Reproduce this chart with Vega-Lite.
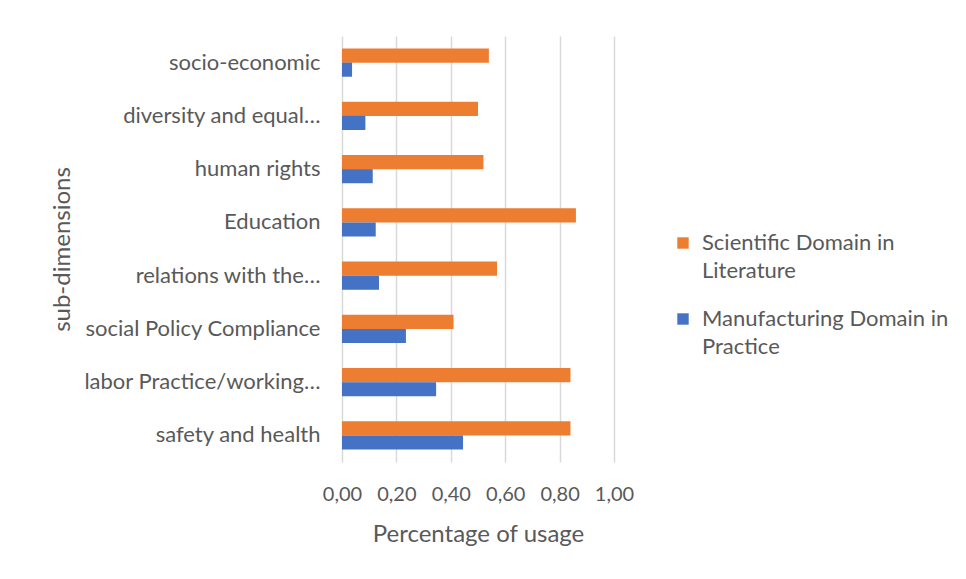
{
  "$schema": "https://vega.github.io/schema/vega-lite/v6.json",
  "width": 272,
  "height": 426,
  "autosize": {"type": "none"},
  "padding": {"left": 342, "top": 36, "right": 352, "bottom": 117},
  "background": "white",
  "config": {
    "font": "Lato",
    "view": {"stroke": null},
    "axis": {"labelColor": "#595959", "titleColor": "#595959", "labelFont": "Lato", "titleFont": "Lato", "titleFontWeight": "normal"},
    "legend": {"labelColor": "#595959", "labelFont": "Lato"},
    "style": {"guide-label": {"lineHeight": 28}}
  },
  "data": {
    "values": [
      {"category": "socio-economic", "series": "Scientific Domain in Literature", "value": 0.54},
      {"category": "socio-economic", "series": "Manufacturing Domain in Practice", "value": 0.037},
      {"category": "diversity and equal…", "series": "Scientific Domain in Literature", "value": 0.50},
      {"category": "diversity and equal…", "series": "Manufacturing Domain in Practice", "value": 0.086},
      {"category": "human rights", "series": "Scientific Domain in Literature", "value": 0.52},
      {"category": "human rights", "series": "Manufacturing Domain in Practice", "value": 0.113},
      {"category": "Education", "series": "Scientific Domain in Literature", "value": 0.86},
      {"category": "Education", "series": "Manufacturing Domain in Practice", "value": 0.124},
      {"category": "relations with the…", "series": "Scientific Domain in Literature", "value": 0.57},
      {"category": "relations with the…", "series": "Manufacturing Domain in Practice", "value": 0.136},
      {"category": "social Policy Compliance", "series": "Scientific Domain in Literature", "value": 0.41},
      {"category": "social Policy Compliance", "series": "Manufacturing Domain in Practice", "value": 0.235},
      {"category": "labor Practice/working…", "series": "Scientific Domain in Literature", "value": 0.84},
      {"category": "labor Practice/working…", "series": "Manufacturing Domain in Practice", "value": 0.346},
      {"category": "safety and health", "series": "Scientific Domain in Literature", "value": 0.84},
      {"category": "safety and health", "series": "Manufacturing Domain in Practice", "value": 0.445}
    ]
  },
  "mark": {"type": "bar"},
  "encoding": {
    "y": {
      "field": "category",
      "type": "nominal",
      "sort": null,
      "scale": {"paddingInner": 0.47, "paddingOuter": 0.235},
      "axis": {
        "title": "sub-dimensions",
        "titleFontSize": 24,
        "titleX": -268,
        "titleY": 213,
        "labelFontSize": 22,
        "labelPadding": 22,
        "labelLimit": 400,
        "ticks": false,
        "domain": false
      }
    },
    "yOffset": {
      "field": "series",
      "type": "nominal",
      "sort": ["Scientific Domain in Literature", "Manufacturing Domain in Practice"]
    },
    "x": {
      "field": "value",
      "type": "quantitative",
      "scale": {"domain": [0, 1]},
      "axis": {
        "title": "Percentage of usage",
        "titleFontSize": 24,
        "titlePadding": 18,
        "labelFontSize": 20,
        "labelPadding": 22,
        "labelFlush": false,
        "labelOverlap": false,
        "values": [0, 0.2, 0.4, 0.6, 0.8, 1.0],
        "labelExpr": "replace(format(datum.value, '.2f'), '.', ',')",
        "ticks": false,
        "domain": false,
        "grid": true,
        "gridColor": "#d9d9d9",
        "gridWidth": 1.5
      }
    },
    "color": {
      "field": "series",
      "type": "nominal",
      "sort": ["Scientific Domain in Literature", "Manufacturing Domain in Practice"],
      "scale": {"domain": ["Scientific Domain in Literature", "Manufacturing Domain in Practice"], "range": ["#ED7D31", "#4472C4"]},
      "legend": {
        "title": null,
        "orient": "none",
        "legendX": 330,
        "legendY": 196,
        "symbolType": "square",
        "symbolSize": 130,
        "symbolStrokeWidth": 0,
        "labelFontSize": 22,
        "labelLimit": 400,
        "labelOffset": 8,
        "rowPadding": 26,
        "labelExpr": "datum.label == 'Scientific Domain in Literature' ? ['Scientific Domain in', 'Literature'] : ['Manufacturing Domain in', 'Practice']"
      }
    }
  }
}
